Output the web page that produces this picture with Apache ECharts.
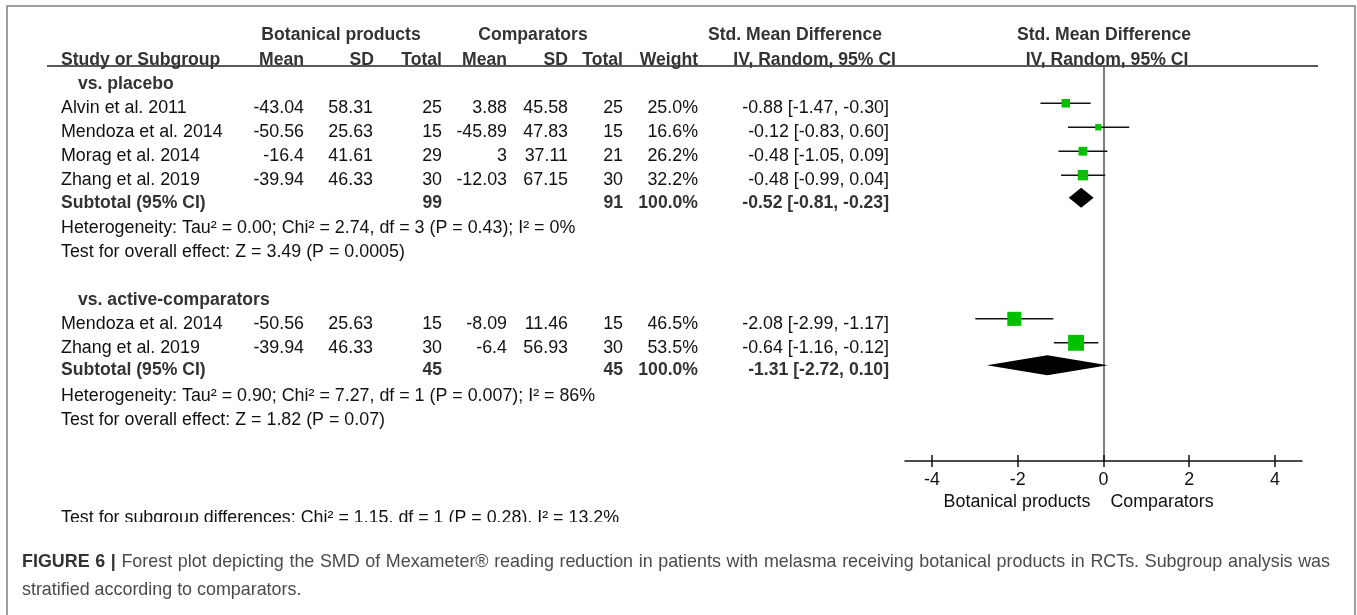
<!DOCTYPE html>
<html><head><meta charset="utf-8">
<script src="https://cdn.jsdelivr.net/npm/echarts@6/dist/echarts.min.js"></script>
<style>html,body{margin:0;padding:0;background:#fff;}#c{width:1357px;height:615px;}</style>
</head><body><div id="c"></div>
<script>
// ---------------- DATA ----------------
const studyNames = ['Alvin et al. 2011','Mendoza et al. 2014','Morag et al. 2014','Zhang et al. 2019','Mendoza et al. 2014','Zhang et al. 2019'];
const studyGroup = [0,0,0,0,1,1];
const botMean = [-43.04,-50.56,-16.4,-39.94,-50.56,-39.94];
const botSD = [58.31,25.63,41.61,46.33,25.63,46.33];
const botTotal = [25,15,29,30,15,30];
const compMean = [3.88,-45.89,3,-12.03,-8.09,-6.4];
const compSD = [45.58,47.83,37.11,67.15,11.46,56.93];
const compTotal = [25,15,21,30,15,30];
const studyWeight = [25.0,16.6,26.2,32.2,46.5,53.5];
const studySMD = [-0.88,-0.12,-0.48,-0.48,-2.08,-0.64];
const studyLo = [-1.47,-0.83,-1.05,-0.99,-2.99,-1.16];
const studyHi = [-0.30,0.60,0.09,0.04,-1.17,-0.12];

const groupNames = ['vs. placebo','vs. active-comparators'];
const groupBotTotal = [99,45];
const groupCompTotal = [91,45];
const groupWeight = [100.0,100.0];
const groupSMD = [-0.52,-1.31];
const groupLo = [-0.81,-2.72];
const groupHi = [-0.23,0.10];
const groupHeterogeneity = ['Heterogeneity: Tau\u00b2 = 0.00; Chi\u00b2 = 2.74, df = 3 (P = 0.43); I\u00b2 = 0%','Heterogeneity: Tau\u00b2 = 0.90; Chi\u00b2 = 7.27, df = 1 (P = 0.007); I\u00b2 = 86%'];
const groupOverall = ['Test for overall effect: Z = 3.49 (P = 0.0005)','Test for overall effect: Z = 1.82 (P = 0.07)'];
const subgroupTest = 'Test for subgroup differences: Chi\u00b2 = 1.15, df = 1 (P = 0.28), I\u00b2 = 13.2%';

const xTicks = [-4,-2,0,2,4];
const xAxisLeftLabel = 'Botanical products';
const xAxisRightLabel = 'Comparators';
const headerGroups = ['Botanical products','Comparators','Std. Mean Difference','Std. Mean Difference'];
const headerColumns = ['Study or Subgroup','Mean','SD','Total','Mean','SD','Total','Weight','IV, Random, 95% CI','IV, Random, 95% CI'];
const captionBold = 'FIGURE 6 |';
const captionLine1 = 'Forest plot depicting the SMD of Mexameter\u00ae reading reduction in patients with melasma receiving botanical products in RCTs. Subgroup analysis was';
const captionLine2 = 'stratified according to comparators.';

// ---------------- LAYOUT ----------------
const studyRows = [1,2,3,4,10,11];
const groupHeadRows = [0,9];
const subtotalRows = [4.94,11.94];
const hetRows = [6,13];
const overallRows = [7,14];
const FS = 17.85, FSB = 17.6, CFS = 17.9;
const FONT = '"Liberation Sans", Arial, sans-serif';
const COL = {name:61, sub:78, bMean:304, bSD:373, bN:442, cMean:507, cSD:568, cN:623, w:698, smd:889};
const TEXT_DY = 5;

const fmtCI = (e,l,h) => e.toFixed(2) + ' [' + l.toFixed(2) + ', ' + h.toFixed(2) + ']';

const tableLines = [];
groupNames.forEach((g,gi) => {
  tableLines.push({row: groupHeadRows[gi], items:[{t:g, x:COL.sub, a:'left', b:true}]});
});
studyNames.forEach((n,i) => {
  tableLines.push({row: studyRows[i], items:[
    {t:n, x:COL.name, a:'left'},
    {t:String(botMean[i]), x:COL.bMean, a:'right'},
    {t:String(botSD[i]), x:COL.bSD, a:'right'},
    {t:String(botTotal[i]), x:COL.bN, a:'right'},
    {t:String(compMean[i]), x:COL.cMean, a:'right'},
    {t:String(compSD[i]), x:COL.cSD, a:'right'},
    {t:String(compTotal[i]), x:COL.cN, a:'right'},
    {t:studyWeight[i].toFixed(1)+'%', x:COL.w, a:'right'},
    {t:fmtCI(studySMD[i],studyLo[i],studyHi[i]), x:COL.smd, a:'right'}
  ]});
});
groupNames.forEach((g,gi) => {
  tableLines.push({row: subtotalRows[gi], items:[
    {t:'Subtotal (95% CI)', x:COL.name, a:'left', b:true},
    {t:String(groupBotTotal[gi]), x:COL.bN, a:'right', b:true},
    {t:String(groupCompTotal[gi]), x:COL.cN, a:'right', b:true},
    {t:groupWeight[gi].toFixed(1)+'%', x:COL.w, a:'right', b:true},
    {t:fmtCI(groupSMD[gi],groupLo[gi],groupHi[gi]), x:COL.smd, a:'right', b:true}
  ]});
  tableLines.push({row: hetRows[gi], items:[{t:groupHeterogeneity[gi], x:COL.name, a:'left'}]});
  tableLines.push({row: overallRows[gi], items:[{t:groupOverall[gi], x:COL.name, a:'left'}]});
});

function txt(t, x, y, align, bold, extra) {
  return Object.assign({type:'text', x:x, y:y, silent:true, style:{
    text:t, x:0, y:0, align:align, verticalAlign:'middle',
    fontSize: bold?FSB:FS, fontFamily:FONT, fontWeight: bold?'bold':'normal', fill: bold?'#333':'#111'}}, extra||{});
}

function renderTable(params, api) {
  const line = tableLines[params.dataIndex];
  const y = api.coord([0, line.row])[1] + TEXT_DY;
  return {type:'group', children: line.items.map(it => txt(it.t, it.x, y, it.a, it.b))};
}
function renderStudy(params, api) {
  const est = api.value(0), row = api.value(1), lo = api.value(2), hi = api.value(3), w = api.value(4);
  const c = api.coord([est,row]), l = api.coord([lo,row]), h = api.coord([hi,row]);
  const s = 2 + 0.26*w;
  return {type:'group', children:[
    {type:'line', shape:{x1:l[0],y1:c[1],x2:h[0],y2:c[1]}, style:{stroke:'#111',lineWidth:1.5}},
    {type:'rect', shape:{x:c[0]-s/2,y:c[1]-s/2,width:s,height:s}, style:{fill:'#00c000'}}
  ]};
}
function renderDiamond(params, api) {
  const est = api.value(0), row = api.value(1), lo = api.value(2), hi = api.value(3);
  const c = api.coord([est,row]), l = api.coord([lo,row]), h = api.coord([hi,row]);
  return {type:'polygon', shape:{points:[[l[0],c[1]],[c[0],c[1]-10],[h[0],c[1]],[c[0],c[1]+10]]}, style:{fill:'#000'}};
}

// justified caption line 1
const mctx = document.createElement('canvas').getContext('2d');
function measure(w, bold) { mctx.font = (bold?'bold ':'') + CFS + 'px "Liberation Sans"'; return mctx.measureText(w).width; }
const capWords = captionBold.split(' ').map(w => ({t:w, b:true})).concat(captionLine1.split(' ').map(w => ({t:w, b:false})));
const capLeft = 22, capRight = 1330;
const capTotal = capWords.reduce((s,w) => s + measure(w.t, w.b), 0);
const capGap = Math.max(measure(' ', false), (capRight - capLeft - capTotal) / (capWords.length - 1));
const captionGraphics = [];
let cx = capLeft;
capWords.forEach(w => {
  captionGraphics.push({type:'text', x:cx, y:562, silent:true, z:60, style:{
    text:w.t, x:0, y:0, verticalAlign:'middle', align:'left', fontSize:CFS, fontFamily:FONT,
    fontWeight: w.b?'bold':'normal', fill: w.b?'#333':'#4a4a4a'}});
  cx += measure(w.t, w.b) + capGap;
});

const chart = echarts.init(document.getElementById('c'), null, {renderer:'canvas'});
const headerY1 = 35, headerY2 = 60;
const graphics = [
  {type:'rect', shape:{x:7,y:6,width:1348,height:640}, style:{fill:'none', stroke:'#808080', lineWidth:1.5}, silent:true, z:0},
  {type:'line', shape:{x1:47,y1:66,x2:1318,y2:66}, style:{stroke:'#222', lineWidth:1.5}, silent:true},
  txt(headerGroups[0], 341, headerY1, 'center', true),
  txt(headerGroups[1], 533, headerY1, 'center', true),
  txt(headerGroups[2], 795, headerY1, 'center', true),
  txt(headerGroups[3], 1104, headerY1, 'center', true),
  txt(headerColumns[0], 61, headerY2, 'left', true),
  txt(headerColumns[1], 304, headerY2, 'right', true),
  txt(headerColumns[2], 374, headerY2, 'right', true),
  txt(headerColumns[3], 442, headerY2, 'right', true),
  txt(headerColumns[4], 507, headerY2, 'right', true),
  txt(headerColumns[5], 568, headerY2, 'right', true),
  txt(headerColumns[6], 623, headerY2, 'right', true),
  txt(headerColumns[7], 698, headerY2, 'right', true),
  txt(headerColumns[8], 896, headerY2, 'right', true),
  txt(headerColumns[9], 1107, headerY2, 'center', true),
  txt(xAxisLeftLabel, 1017, 502, 'center', false),
  txt(xAxisRightLabel, 1162, 502, 'center', false),
  txt(subgroupTest, 61, 518, 'left', false),
  {type:'rect', shape:{x:40,y:522,width:860,height:20}, style:{fill:'#fff'}, silent:true, z:50},
  {type:'text', x:22, y:590, silent:true, z:60, style:{
    text:captionLine2, x:0, y:0, verticalAlign:'middle', align:'left',
    fontSize:CFS, fontFamily:FONT, fill:'#4a4a4a'}}
].concat(captionGraphics);

const option = {
  animation:false,
  backgroundColor:'#fff',
  grid:{left:905, right:55, top:66, bottom:154, containLabel:false},
  xAxis:[{
    type:'value', min:-4.63, max:4.63, position:'bottom',
    axisLine:{show:true, onZero:false, lineStyle:{color:'#111', width:1.5}},
    axisTick:{show:true, inside:false, length:6, customValues:xTicks, lineStyle:{color:'#111', width:1.5}},
    axisLabel:{show:true, customValues:xTicks, margin:10, fontSize:FS, fontFamily:FONT, color:'#111'},
    splitLine:{show:false}
  },{
    type:'value', min:-4.63, max:4.63, position:'bottom', gridIndex:0,
    axisLine:{show:false, onZero:false},
    axisTick:{show:true, inside:true, length:6, customValues:xTicks, lineStyle:{color:'#111', width:1.5}},
    axisLabel:{show:false}, splitLine:{show:false}
  }],
  yAxis:{type:'value', inverse:true, min:-0.557, max:15.935,
    axisLine:{show:true, onZero:true, lineStyle:{color:'#555', width:1.5}},
    axisTick:{show:false}, axisLabel:{show:false}, splitLine:{show:false}},
  series:[
    {type:'custom', name:'table', clip:false, renderItem:renderTable, silent:true,
     data: tableLines.map(l => [0, l.row]), encode:{x:0, y:1}},
    {type:'custom', name:'studies', clip:false, renderItem:renderStudy, silent:true,
     data: studySMD.map((v,i) => [v, studyRows[i], studyLo[i], studyHi[i], studyWeight[i]]),
     dimensions:['smd','row','lo','hi','w'], encode:{x:0, y:1}},
    {type:'custom', name:'subtotals', clip:false, renderItem:renderDiamond, silent:true,
     data: groupSMD.map((v,i) => [v, subtotalRows[i], groupLo[i], groupHi[i]]),
     dimensions:['smd','row','lo','hi'], encode:{x:0, y:1}}
  ],
  graphic: graphics
};
chart.setOption(option);
</script></body></html>
